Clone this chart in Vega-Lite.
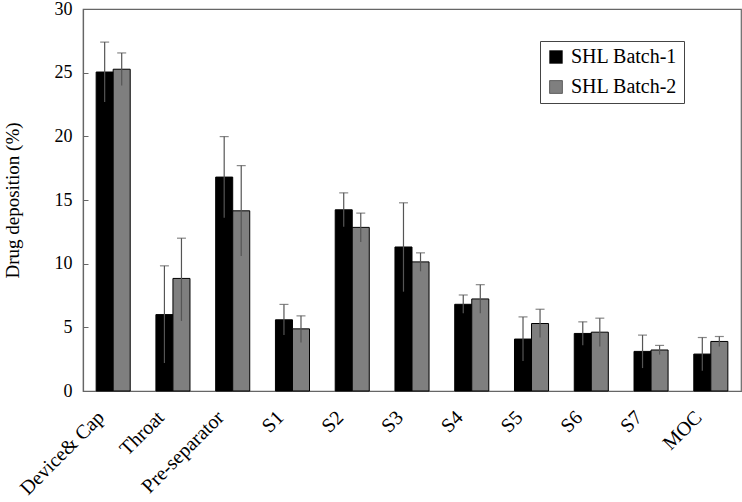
{
  "$schema": "https://vega.github.io/schema/vega-lite/v6.json",
  "width": 658,
  "height": 382,
  "autosize": {"type": "none"},
  "padding": {"left": 83, "top": 9, "right": 1, "bottom": 111},
  "background": "white",
  "config": {
    "font": "Liberation Serif",
    "view": {"stroke": "#666", "strokeWidth": 1.2}
  },
  "data": {
    "values": [
      {"cat": "Device& Cap", "batch": "SHL Batch-1", "mean": 25.05, "lo": 22.7, "hi": 27.4},
      {"cat": "Device& Cap", "batch": "SHL Batch-2", "mean": 25.27, "lo": 24.0, "hi": 26.55},
      {"cat": "Throat", "batch": "SHL Batch-1", "mean": 6.0, "lo": 2.2, "hi": 9.83},
      {"cat": "Throat", "batch": "SHL Batch-2", "mean": 8.84, "lo": 5.5, "hi": 12.0},
      {"cat": "Pre-separator", "batch": "SHL Batch-1", "mean": 16.8, "lo": 13.6, "hi": 19.98},
      {"cat": "Pre-separator", "batch": "SHL Batch-2", "mean": 14.15, "lo": 10.6, "hi": 17.7},
      {"cat": "S1", "batch": "SHL Batch-1", "mean": 5.59, "lo": 4.4, "hi": 6.8},
      {"cat": "S1", "batch": "SHL Batch-2", "mean": 4.88, "lo": 3.8, "hi": 5.9},
      {"cat": "S2", "batch": "SHL Batch-1", "mean": 14.23, "lo": 12.9, "hi": 15.56},
      {"cat": "S2", "batch": "SHL Batch-2", "mean": 12.85, "lo": 11.7, "hi": 13.97},
      {"cat": "S3", "batch": "SHL Batch-1", "mean": 11.31, "lo": 7.8, "hi": 14.78},
      {"cat": "S3", "batch": "SHL Batch-2", "mean": 10.14, "lo": 9.4, "hi": 10.85},
      {"cat": "S4", "batch": "SHL Batch-1", "mean": 6.81, "lo": 6.1, "hi": 7.54},
      {"cat": "S4", "batch": "SHL Batch-2", "mean": 7.23, "lo": 6.1, "hi": 8.35},
      {"cat": "S5", "batch": "SHL Batch-1", "mean": 4.08, "lo": 2.35, "hi": 5.82},
      {"cat": "S5", "batch": "SHL Batch-2", "mean": 5.3, "lo": 4.2, "hi": 6.42},
      {"cat": "S6", "batch": "SHL Batch-1", "mean": 4.52, "lo": 3.6, "hi": 5.43},
      {"cat": "S6", "batch": "SHL Batch-2", "mean": 4.62, "lo": 3.5, "hi": 5.72},
      {"cat": "S7", "batch": "SHL Batch-1", "mean": 3.11, "lo": 1.8, "hi": 4.39},
      {"cat": "S7", "batch": "SHL Batch-2", "mean": 3.22, "lo": 2.86, "hi": 3.58},
      {"cat": "MOC", "batch": "SHL Batch-1", "mean": 2.9, "lo": 1.6, "hi": 4.2},
      {"cat": "MOC", "batch": "SHL Batch-2", "mean": 3.89, "lo": 3.5, "hi": 4.28}
    ]
  },
  "encoding": {
    "x": {
      "field": "cat",
      "type": "nominal",
      "sort": ["Device& Cap", "Throat", "Pre-separator", "S1", "S2", "S3", "S4", "S5", "S6", "S7", "MOC"],
      "scale": {"paddingInner": 0.43, "paddingOuter": 0.22},
      "axis": {
        "title": null,
        "labelAngle": -45,
        "labelAlign": "right",
        "labelBaseline": "middle",
        "labelFontSize": 20,
        "labelColor": "black",
        "labelPadding": 23,
        "labelOffset": -12,
        "labelLimit": 300,
        "ticks": false,
        "domainColor": "#666",
        "domainWidth": 1.2
      }
    },
    "xOffset": {"field": "batch", "type": "nominal", "scale": {"paddingInner": 0, "paddingOuter": 0}}
  },
  "layer": [
    {
      "mark": {"type": "bar", "stroke": "black", "strokeWidth": 1},
      "encoding": {
        "y": {
          "field": "mean",
          "type": "quantitative",
          "scale": {"domain": [0, 30]},
          "axis": {
            "title": "Drug deposition (%)",
            "titleFontSize": 19,
            "titleFontWeight": "normal",
            "titleColor": "black",
            "titlePadding": 32,
            "values": [0, 5, 10, 15, 20, 25, 30],
            "labelFontSize": 18,
            "labelColor": "black",
            "labelPadding": 16,
            "tickSize": -5,
            "tickColor": "#666",
            "domainColor": "#666",
            "domainWidth": 1.2,
            "grid": false
          }
        },
        "fill": {
          "field": "batch",
          "type": "nominal",
          "scale": {"range": ["black", "#7f7f7f"]},
          "legend": {
            "title": null,
            "orient": "none",
            "legendX": 457,
            "legendY": 32,
            "labelFontSize": 20,
            "labelColor": "black",
            "symbolType": "square",
            "symbolSize": 165,
            "symbolStrokeColor": "black",
            "symbolStrokeWidth": 0.5,
            "rowPadding": 10,
            "padding": 6,
            "strokeColor": "#444",
            "fillColor": "white",
            "labelOffset": 5
          }
        }
      }
    },
    {
      "mark": {"type": "rule", "color": "#555", "strokeWidth": 1.2},
      "encoding": {
        "y": {"field": "lo", "type": "quantitative"},
        "y2": {"field": "hi"}
      }
    },
    {
      "mark": {"type": "tick", "color": "#555", "thickness": 1.2, "size": 9, "orient": "horizontal"},
      "encoding": {
        "y": {"field": "hi", "type": "quantitative"}
      }
    }
  ]
}
